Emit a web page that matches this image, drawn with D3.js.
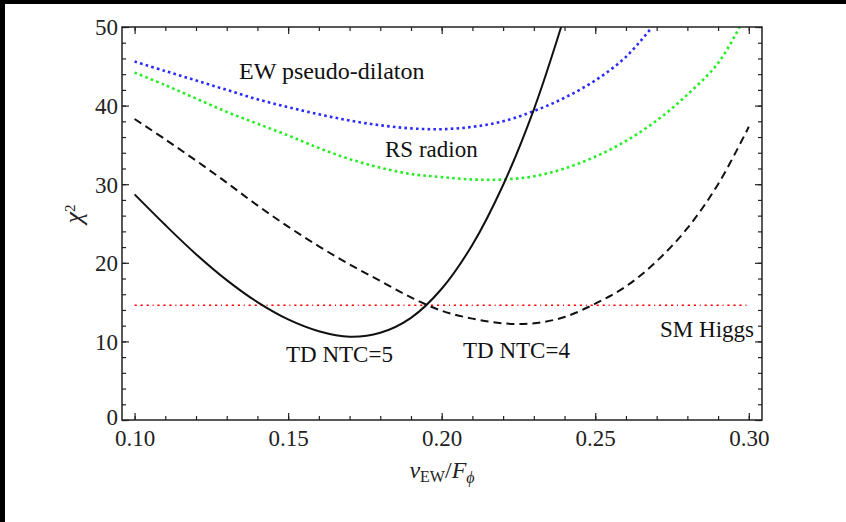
<!DOCTYPE html>
<html>
<head>
<meta charset="utf-8">
<script src="https://cdn.jsdelivr.net/npm/d3@7"></script>
<style>
  html, body { margin: 0; padding: 0; background: #fff; }
  svg { display: block; }
  svg text { font-family: "Liberation Serif", "Times New Roman", "DejaVu Serif", serif; }
</style>
</head>
<body>
<div id="chart"></div>
<script>
// valeurs
const xTicks = [0.10, 0.15, 0.20, 0.25, 0.30];
const yTicks = [0, 10, 20, 30, 40, 50];

// TD NTC=5 (trait plein)
const td5X = [0.10, 0.11, 0.12, 0.13, 0.14, 0.15, 0.16, 0.17, 0.18, 0.19, 0.20, 0.21, 0.22, 0.23, 0.2389];
const td5Y = [28.7, 24.8, 21.1, 17.8, 15.0, 12.8, 11.3, 10.6, 11.1, 13.0, 16.7, 22.3, 29.9, 39.5, 50.0];

// TD NTC=4 (tirets)
const td4X = [0.10, 0.11, 0.12, 0.13, 0.14, 0.15, 0.16, 0.17, 0.18, 0.19, 0.20, 0.21, 0.22, 0.23, 0.24, 0.25, 0.26, 0.27, 0.28, 0.29, 0.30];
const td4Y = [38.3, 35.7, 33.0, 30.2, 27.3, 24.6, 22.1, 19.8, 17.7, 15.6, 13.9, 12.9, 12.3, 12.3, 13.1, 14.8, 17.0, 20.2, 24.4, 30.0, 37.3];

// EW pseudo-dilaton (pointillés bleus)
const ewX = [0.10, 0.11, 0.12, 0.13, 0.14, 0.15, 0.16, 0.17, 0.18, 0.19, 0.20, 0.21, 0.22, 0.23, 0.24, 0.25, 0.26, 0.2685];
const ewY = [45.6, 44.4, 43.2, 42.0, 40.8, 39.8, 38.9, 38.1, 37.5, 37.1, 37.0, 37.3, 38.0, 39.3, 41.0, 43.2, 46.2, 50.0];

// RS radion (pointillés verts)
const rsX = [0.10, 0.11, 0.12, 0.13, 0.14, 0.15, 0.16, 0.17, 0.18, 0.19, 0.20, 0.21, 0.22, 0.23, 0.24, 0.25, 0.26, 0.27, 0.28, 0.29, 0.297];
const rsY = [44.2, 42.6, 40.9, 39.2, 37.7, 36.2, 34.6, 33.2, 32.1, 31.3, 30.9, 30.6, 30.6, 31.0, 32.0, 33.5, 35.5, 38.1, 41.4, 45.4, 50.0];

// SM Higgs (ligne horizontale)
const smX = [0.10, 0.30];
const smY = [14.6, 14.6];

const width = 846,
  height = 522;
const plot = { left: 122, right: 762, top: 27, bottom: 420 };
const serif = "Liberation Serif, Times New Roman, DejaVu Serif, serif";

const svg = d3
  .select("#chart")
  .append("svg")
  .attr("width", width)
  .attr("height", height)
  .attr("font-family", serif);

// bordure noire en haut et a gauche
svg.append("rect").attr("x", 0).attr("y", 0).attr("width", width).attr("height", 4).attr("fill", "#000");
svg.append("rect").attr("x", 0).attr("y", 0).attr("width", 5).attr("height", height).attr("fill", "#000");

const x = d3.scaleLinear().domain([0.0959, 0.3043]).range([plot.left, plot.right]);
const y = d3.scaleLinear().domain([0, 50]).range([plot.bottom, plot.top]);

svg
  .append("clipPath")
  .attr("id", "clip")
  .append("rect")
  .attr("x", plot.left)
  .attr("y", plot.top)
  .attr("width", plot.right - plot.left)
  .attr("height", plot.bottom - plot.top);

const line = d3
  .line()
  .x((d) => x(d[0]))
  .y((d) => y(d[1]))
  .curve(d3.curveCatmullRom.alpha(0.5));

const series = [
  { xs: smX, ys: smY, color: "#ff0000", w: 1.6, dash: "2.2,3.8,2.2,3.8,2.2,3.8,1,3.8" },
  { xs: rsX, ys: rsY, color: "#22ee22", w: 2.6, dash: "2.6,3.2" },
  { xs: ewX, ys: ewY, color: "#2a2aff", w: 2.6, dash: "2.6,3.2" },
  { xs: td4X, ys: td4Y, color: "#111", w: 2, dash: "8,5" },
  { xs: td5X, ys: td5Y, color: "#111", w: 2, dash: null },
];

const curves = svg.append("g").attr("clip-path", "url(#clip)");
curves
  .selectAll("path")
  .data(series)
  .join("path")
  .attr("d", (s) => line(s.xs.map((v, i) => [v, s.ys[i]])))
  .attr("fill", "none")
  .attr("stroke", (s) => s.color)
  .attr("stroke-width", (s) => s.w)
  .attr("stroke-dasharray", (s) => s.dash);

// axes : graduations vers l'interieur sur les 4 cotes
const xMinor = d3.range(10, 31).map((d) => d / 100);
const yMinor = d3.range(0, 51, 2);

function ticksOn(axisFn, scale, values, size, transform, fmt) {
  const g = svg
    .append("g")
    .attr("transform", transform)
    .call(
      axisFn(scale)
        .tickValues(values)
        .tickSize(size)
        .tickPadding(9)
        .tickFormat(fmt || "")
    );
  g.attr("font-family", serif).attr("font-size", 23);
  g.select(".domain").remove();
  g.selectAll("line").attr("stroke", "#222").attr("stroke-width", 1.2);
  return g;
}

ticksOn(d3.axisBottom, x, xMinor, -4, `translate(0,${plot.bottom})`);
ticksOn(d3.axisTop, x, xMinor, -4, `translate(0,${plot.top})`);
ticksOn(d3.axisLeft, y, yMinor, -4, `translate(${plot.left},0)`);
ticksOn(d3.axisRight, y, yMinor, -4, `translate(${plot.right},0)`);

const xAxis = ticksOn(d3.axisBottom, x, xTicks, -7, `translate(0,${plot.bottom})`, d3.format(".2f"));
ticksOn(d3.axisTop, x, xTicks, -7, `translate(0,${plot.top})`);
const yAxis = ticksOn(d3.axisLeft, y, yTicks, -7, `translate(${plot.left},0)`, d3.format("d"));
ticksOn(d3.axisRight, y, yTicks, -7, `translate(${plot.right},0)`);

xAxis.selectAll("text").attr("y", 8).attr("dy", "0.78em").attr("fill", "#222");
yAxis.selectAll("text").attr("x", -4).attr("dy", "0.34em").attr("fill", "#222");
yAxis.selectAll("text").filter((d) => d === 0).attr("dy", "0.2em");

// cadre
svg
  .append("rect")
  .attr("x", plot.left)
  .attr("y", plot.top)
  .attr("width", plot.right - plot.left)
  .attr("height", plot.bottom - plot.top)
  .attr("fill", "none")
  .attr("stroke", "#222")
  .attr("stroke-width", 1.5);

// etiquettes des courbes
const labels = [
  { text: "EW pseudo-dilaton", x: 239, y: 79, anchor: "start", size: 24 },
  { text: "RS radion", x: 385, y: 157, anchor: "start", size: 23 },
  { text: "TD NTC=5", x: 286, y: 362, anchor: "start", size: 23 },
  { text: "TD NTC=4", x: 463, y: 358, anchor: "start", size: 23 },
  { text: "SM Higgs", x: 754, y: 337, anchor: "end", size: 23 },
];
svg
  .append("g")
  .selectAll("text")
  .data(labels)
  .join("text")
  .attr("x", (d) => d.x)
  .attr("y", (d) => d.y)
  .attr("text-anchor", (d) => d.anchor)
  .attr("font-family", serif)
  .attr("font-size", (d) => d.size)
  .attr("fill", "#111")
  .text((d) => d.text);

// titre de l'axe y : chi^2
const yTitle = svg
  .append("text")
  .attr("transform", "translate(82,214) rotate(-90)")
  .attr("text-anchor", "middle")
  .attr("font-family", serif)
  .attr("font-size", 26)
  .attr("fill", "#222");
yTitle.append("tspan").attr("font-style", "italic").text("χ");
yTitle.append("tspan").attr("dy", "-0.45em").attr("font-size", 15).text("2");

// titre de l'axe x : v_EW / F_phi
const xTitle = svg
  .append("text")
  .attr("x", 442)
  .attr("y", 478)
  .attr("text-anchor", "middle")
  .attr("font-family", serif)
  .attr("font-size", 24)
  .attr("fill", "#222");
xTitle.append("tspan").attr("font-style", "italic").text("v");
xTitle.append("tspan").attr("dy", 4).attr("font-size", 16).text("EW");
xTitle.append("tspan").attr("dy", -4).text("/");
xTitle.append("tspan").attr("font-style", "italic").text("F");
xTitle.append("tspan").attr("dy", 5).attr("font-size", 16).attr("font-style", "italic").text("ϕ");
</script>
</body>
</html>
